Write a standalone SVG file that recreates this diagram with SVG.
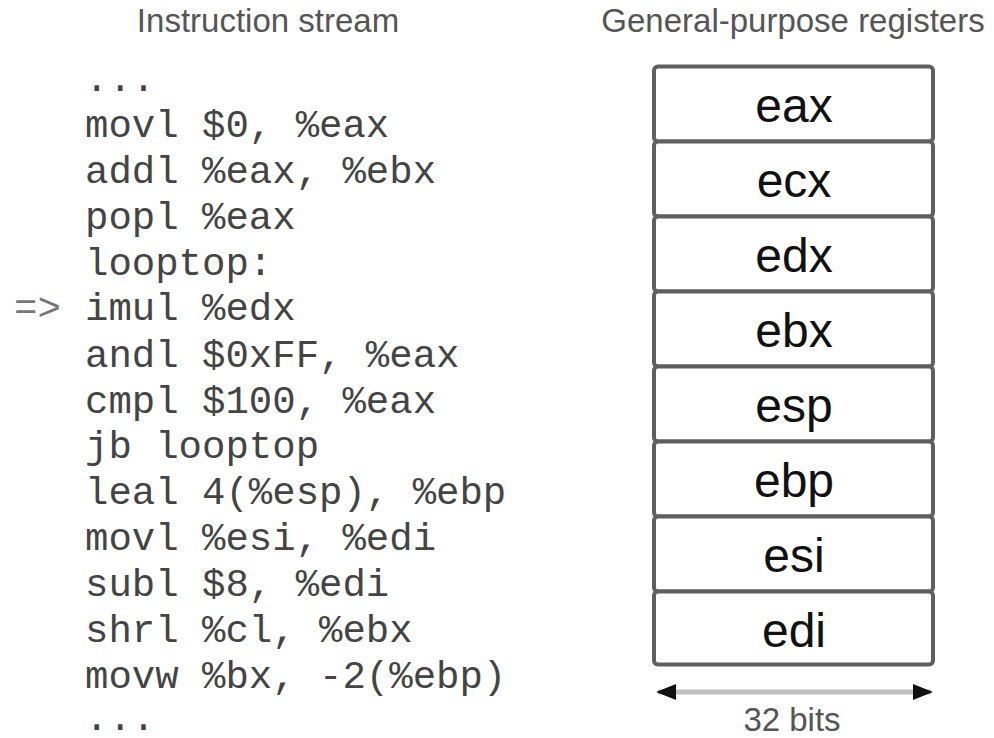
<svg xmlns="http://www.w3.org/2000/svg" width="994" height="738" viewBox="0 0 994 738">
<defs>
<style>
.title{font-family:"Liberation Sans",Arial,sans-serif;font-size:33px;fill:#555;text-anchor:middle}
.code{font-family:"Liberation Mono","Courier New",monospace;font-size:39px;fill:#444;white-space:pre}
.cell{fill:#fff;stroke:#5f5f5f;stroke-width:4}
.reg{font-family:"Liberation Sans",Arial,sans-serif;font-size:48px;fill:#111;text-anchor:middle}
</style>
<marker id="ah" viewBox="0 0 10 10" refX="9" refY="5" markerWidth="4" markerHeight="4" orient="auto-start-reverse" markerUnits="strokeWidth">
<path d="M0,1 L10,5 L0,9 z" fill="#111"/>
</marker>
</defs>
<rect width="994" height="738" fill="#fff"/>
<text class="title" x="268" y="32">Instruction stream</text>
<text class="title" x="793" y="32">General-purpose registers</text>
<g id="code">
<text class="code" x="85" y="91">...</text>
<text class="code" x="85" y="137">movl $0, %eax</text>
<text class="code" x="85" y="183">addl %eax, %ebx</text>
<text class="code" x="85" y="229">popl %eax</text>
<text class="code" x="85" y="275">looptop:</text>
<text class="code" x="14" y="320" style="fill:#777">=&gt;</text>
<text class="code" x="85" y="320">imul %edx</text>
<text class="code" x="85" y="367">andl $0xFF, %eax</text>
<text class="code" x="85" y="413">cmpl $100, %eax</text>
<text class="code" x="85" y="458">jb looptop</text>
<text class="code" x="85" y="504">leal 4(%esp), %ebp</text>
<text class="code" x="85" y="550">movl %esi, %edi</text>
<text class="code" x="85" y="596">subl $8, %edi</text>
<text class="code" x="85" y="642">shrl %cl, %ebx</text>
<text class="code" x="85" y="688">movw %bx, -2(%ebp)</text>
<text class="code" x="85" y="730">...</text>
</g>
<g id="eax"><rect class="cell" x="654" y="66.5" width="279" height="75" rx="4"/><text class="reg" x="794" y="121.5">eax</text></g>
<g id="ecx"><rect class="cell" x="654" y="141.5" width="279" height="75" rx="4"/><text class="reg" x="794" y="196.5">ecx</text></g>
<g id="edx"><rect class="cell" x="654" y="216.5" width="279" height="75" rx="4"/><text class="reg" x="794" y="271.5">edx</text></g>
<g id="ebx"><rect class="cell" x="654" y="291.5" width="279" height="75" rx="4"/><text class="reg" x="794" y="346.5">ebx</text></g>
<g id="esp"><rect class="cell" x="654" y="366.5" width="279" height="75" rx="4"/><text class="reg" x="794" y="421.5">esp</text></g>
<g id="ebp"><rect class="cell" x="654" y="441.5" width="279" height="75" rx="4"/><text class="reg" x="794" y="496.5">ebp</text></g>
<g id="esi"><rect class="cell" x="654" y="516.5" width="279" height="75" rx="4"/><text class="reg" x="794" y="571.5">esi</text></g>
<g id="edi"><rect class="cell" x="654" y="591.5" width="279" height="73" rx="4"/><text class="reg" x="794" y="646.5">edi</text></g>
<g id="connectors">
<line x1="658" y1="692" x2="931" y2="692" stroke="#c0c0c0" stroke-width="5" marker-start="url(#ah)" marker-end="url(#ah)"/>
</g>
<text class="title" x="792" y="731">32 bits</text>
</svg>
